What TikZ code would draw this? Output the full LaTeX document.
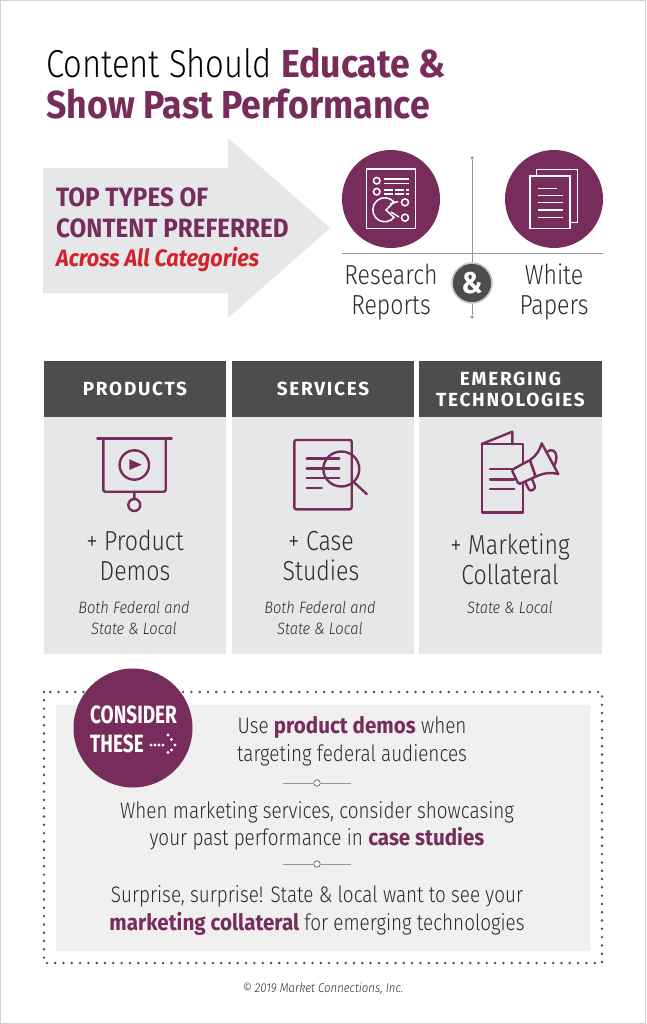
\documentclass[tikz,border=0pt]{standalone}
\usepackage{fontspec}
\setmainfont[UprightFeatures={FakeStretch=0.84},BoldFont={Fira Sans Bold},BoldFeatures={FakeStretch=0.915},ItalicFont={Fira Sans Light Italic},ItalicFeatures={FakeStretch=0.89},BoldItalicFont={Fira Sans Bold Italic},BoldItalicFeatures={FakeStretch=0.915}]{Fira Sans Light}
\newfontfamily\headfont[LetterSpace=9]{Fira Sans Bold}
\newfontfamily\condfont[FakeStretch=0.76]{Fira Sans Bold}
\definecolor{plum}{HTML}{772C5C}
\definecolor{slate}{HTML}{4D4D4F}
\definecolor{panel}{HTML}{E6E7E8}
\definecolor{softpanel}{HTML}{F0F0F0}
\definecolor{rulegray}{HTML}{939598}
\definecolor{inkgray}{HTML}{2B2B2D}
\definecolor{hotred}{HTML}{D2232A}
\tikzset{
	titleline/.style={anchor=base west, inner sep=0pt, font=\fontsize{39}{39}\selectfont, text=black},
	lead/.style={anchor=base west, inner sep=0pt, font=\fontsize{26.5}{26.5}\selectfont\bfseries, text=plum},
	caption/.style={anchor=base, inner sep=0pt, font=\fontsize{27.5}{27.5}\selectfont, text=inkgray},
	note/.style={anchor=base, inner sep=0pt, font=\fontsize{16.5}{16.5}\selectfont\itshape, text=inkgray},
	tipline/.style={anchor=base, inner sep=0pt, font=\fontsize{22.5}{22.5}\selectfont, text=inkgray},
	head/.style={anchor=center, inner sep=0pt, align=center, font=\fontsize{19}{21}\headfont, text=white},
	icon/.style={plum, line width=2.4pt, line join=round, line cap=round},
	glyph/.style={white, line width=1.5pt},
	disc/.style={circle, fill=plum, draw=none, minimum size=98pt, inner sep=0pt},
	knob/.style={circle, draw=slate, fill=white, line width=.6pt, minimum size=6.5pt, inner sep=0pt},
	hair/.style={rulegray, line width=.6pt},
}
\begin{document}
\begin{tikzpicture}[x=1pt,y=-1pt]
	\useasboundingbox (0,0) rectangle (646,1024);
	\draw[panel!80!gray, line width=.8pt] (0.5,0.5) rectangle (645.5,1023.5);
	% title
	\node (t1) at (46,78) [titleline] {Content Should \textbf{\textcolor{plum}{Educate \&}}};
	\node (t2) at (46,119) [titleline] {\textbf{\textcolor{plum}{Show Past Performance}}};
	% arrow
	\fill[panel] (43,168) -- (228,168) -- (228,138) -- (330,228) -- (228,318) -- (228,293) -- (43,293) -- cycle;
	\node (a1) at (56,207) [lead] {TOP TYPES OF};
	\node (a2) at (56,237) [lead] {CONTENT PREFERRED};
	\node (a3) at (56,266) [lead, text=hotred, font=\fontsize{23.7}{23.7}\selectfont\bfseries\itshape] {Across All Categories};
	% top pair
	\node (rep) at (391,199) [disc] {};
	\node (pap) at (554,199) [disc] {};
	\coordinate (hl) at (342,253);
	\coordinate (hr) at (603,253);
	\node (vt) at (472,158) [circle, fill=rulegray, minimum size=3.5pt, inner sep=0pt] {};
	\node (vb) at (472,317) [circle, fill=rulegray, minimum size=3.5pt, inner sep=0pt] {};
	\draw[hair, line width=.9pt] (hl) -- (hr);
	\draw[hair, line width=.9pt] (vt) -- (vb);
	\node (amp) at (472,283) [circle, fill=slate, draw=panel!70!gray, line width=1.6pt, minimum size=40pt, inner sep=0pt, text=white, font=\fontsize{30}{30}\selectfont\bfseries] {\&};
	\node (r1) at (391,284) [caption] {Research};
	\node (r2) at (391,314) [caption] {Reports};
	\node (w1) at (554,284) [caption] {White};
	\node (w2) at (554,314) [caption] {Papers};
	% report icon
	\draw[glyph] (366.7,169) rectangle (415.7,228.7);
	\draw[glyph] (376.7,180.7) circle (3.3) (376.7,191.7) circle (3.3) (405,202.3) circle (3.5) (405,217.7) circle (3.5);
	\draw[glyph] (384.3,179) -- (409.3,179) (384.3,183.3) -- (409.3,183.3);
	\draw[glyph, dash pattern=on 9pt off 2pt] (384.3,190) -- (409.3,190) (384.3,194) -- (409.3,194);
	\draw[glyph] (394,202) arc (-40:-320:12 and 12) -- (386,210) -- cycle;
	\draw[glyph] (390,204) -- (398,201.5) (391,212) -- (399,217);
	% papers icon
	\draw[glyph] (536.7,176) -- (536.7,169.3) -- (577.7,169.3) -- (577.7,222.3) -- (570,222.3);
	\draw[glyph] (530,176) rectangle (570,228.7);
	\draw[glyph] (538.3,188.3) -- (556.7,188.3);
	\foreach \y in {195.7,202.7,210,217.7}
		\draw[glyph] (538.3,\y) -- (563.3,\y);
	% columns
	\foreach \x/\w in {44/182,232/182,419/183} {
		\fill[panel] (\x,417) rectangle ++(\w,237);
		\fill[slate] (\x,361) rectangle ++(\w,56);
	}
	\node (h1) at (135,389) [head] {PRODUCTS};
	\node (h2) at (323,389) [head] {SERVICES};
	\node (h3) at (510.5,389) [head] {EMERGING\\TECHNOLOGIES};
	\node (p1) at (135,550) [caption] {+ Product};
	\node (p2) at (135,580) [caption] {Demos};
	\node (p3) at (134,613) [note] {Both Federal and};
	\node (p4) at (134,634) [note] {State \& Local};
	\node (s1) at (321,550) [caption] {+ Case};
	\node (s2) at (321,580) [caption] {Studies};
	\node (s3) at (320,613) [note] {Both Federal and};
	\node (s4) at (320,634) [note] {State \& Local};
	\node (e1) at (510,554) [caption] {+ Marketing};
	\node (e2) at (510,584) [caption] {Collateral};
	\node (e3) at (510,613) [note] {State \& Local};
	% screen icon
	\draw[icon] (97.3,438.3) -- (171.7,438.3);
	\draw[icon, rounded corners=2pt] (103.3,438.3) -- (103.3,491.7) -- (165.7,491.7) -- (165.7,438.3);
	\draw[icon] (134.3,465) circle (14.7);
	\fill[plum] (129.3,459.3) -- (141.7,464.7) -- (129.3,470) -- cycle;
	\draw[icon] (134.3,491.7) -- (134.3,499) (134.3,505) circle (6);
	% lens icon
	\draw[icon, rounded corners=2pt] (294.3,440) rectangle (351.7,509.3);
	\foreach \y in {458.3,468.3,478}
		\draw[icon] (306.7,\y) -- (339.3,\y);
	\draw[icon] (306.7,487.7) -- (321.7,487.7);
	\draw[icon] (341.3,469) ellipse (18 and 17.5);
	\draw[icon] (353.3,481.7) -- (366.7,494);
	% brochure icon
	\draw[icon] (481.7,444) rectangle (522.7,512.3);
	\draw[icon] (481.7,444) -- (512.3,431.7) -- (512.3,444);
	\foreach \y in {469,479.3,489}
		\draw[icon] (490,\y) -- (514.3,\y);
	\draw[icon] (547.7,451.7) .. controls (553,447) and (560,454) .. (554.3,465.7);
	\draw[icon, fill=panel, rounded corners=2.5pt] (525,481.7) -- (530,491.5) -- (535.7,488) -- (531.5,478);
	\draw[icon, fill=panel, rounded corners=1.5pt] (511.7,470) -- (530,460) -- (535.7,476.7) -- (518.7,484.3) -- cycle;
	\draw[icon, fill=panel] (530,460) .. controls (536,456) and (540,450) .. (541.7,443.3) -- (558.3,474) .. controls (551,472) and (543,473) .. (535.7,476.7) -- cycle;
	% consider box
	\draw[slate, line width=2.7pt, line cap=round, dash pattern=on 0pt off 8.3pt] (44,692) rectangle (602,963);
	\fill[softpanel] (56,705) rectangle (590,951);
	\node (cons) at (133,728) [circle, fill=plum, minimum size=119pt, inner sep=0pt] {};
	\node (c1) at (133.5,723) [anchor=base, inner sep=0pt, text=white, font=\fontsize{25}{25}\condfont] {CONSIDER};
	\node (c2) at (90,752) [anchor=base west, inner sep=0pt, text=white, font=\fontsize{25}{25}\condfont] {THESE};
	\foreach \x/\y in {151/745,155/745,159/745,163/745,168/735,171.5/739.5,175/745,171.5/750,168/752.5}
		\fill[white] (\x,\y) circle (1.6);
	\node (u1) at (352,733) [tipline] {Use \textbf{\textcolor{plum}{product demos}} when};
	\node (u2) at (352,761) [tipline] {targeting federal audiences};
	\node (d1) at (317,783) [knob] {};
	\coordinate (d1l) at (283,783);
	\coordinate (d1r) at (351,783);
	\draw[hair] (d1l) -- (d1) -- (d1r);
	\node (m1) at (317,818) [tipline] {When marketing services, consider showcasing};
	\node (m2) at (317,845) [tipline] {your past performance in \textbf{\textcolor{plum}{case studies}}};
	\node (d2) at (317,864) [knob] {};
	\coordinate (d2l) at (283,864);
	\coordinate (d2r) at (351,864);
	\draw[hair] (d2l) -- (d2) -- (d2r);
	\node (l1) at (317,902) [tipline] {Surprise, surprise! State \& local want to see your};
	\node (l2) at (317,930) [tipline] {\textbf{\textcolor{plum}{marketing collateral}} for emerging technologies};
	\node (foot) at (323,992) [anchor=base, inner sep=0pt, text=inkgray, font=\fontsize{12.8}{12.8}\selectfont\itshape] {© 2019 Market Connections, Inc.};
\end{tikzpicture}
\end{document}
